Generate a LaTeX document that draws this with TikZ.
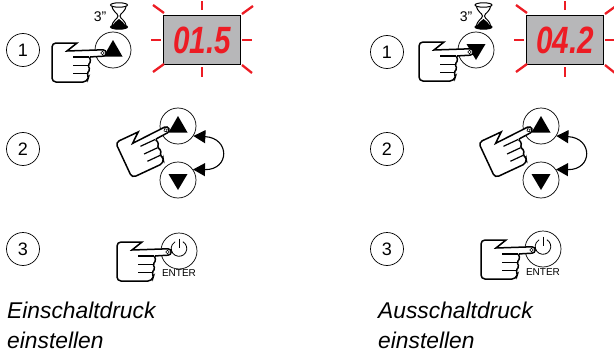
\documentclass[tikz,border=0pt]{standalone}
\usepackage{fontspec}
\setmainfont{Liberation Sans}
\usepackage{graphicx}
\usetikzlibrary{arrows.meta,positioning}
\definecolor{ledred}{RGB}{237,28,36}
\definecolor{dispgray}{RGB}{183,183,185}

\begin{document}
\begin{tikzpicture}[
    x=1pt, y=-1pt,
    stepnum/.style={circle, draw, line width=0.7pt, minimum size=33pt, inner sep=0pt,
                    font=\fontsize{18}{20}\selectfont},
    button/.style={circle, draw, line width=0.7pt, minimum size=36pt, inner sep=0pt},
    leddigits/.style={text=ledred, inner sep=0pt,
                      font=\fontsize{38}{40}\selectfont\bfseries\itshape},
    swap/.style={{Triangle[length=12pt,width=13pt]}-{Triangle[length=12pt,width=13pt]},
                 line width=1.1pt},
    caption/.style={align=left, anchor=north west, inner sep=0pt,
                    font=\fontsize{22.8}{30}\selectfont\itshape},
    small/.style={inner sep=0pt, font=\fontsize{14}{16}\selectfont},
    enter/.style={inner sep=0pt, font=\fontsize{10}{12}\selectfont},
    pics/handpic/.style={code={
        \draw[line width=1.5pt, fill=white, rounded corners=4pt]
            (-26,-10) -- (-51,-10) -- (-51,29) -- (-16,29)
            [rounded corners=1.5pt] -- (-14.5,24) -- (-16,20.5) -- (-13,16.5) -- (-15,12.5)
            -- (-12,8) -- (-14,4) [sharp corners] -- (0,3.2)
            arc[start angle=90, end angle=-90, radius=3.2] -- (-36,-2) -- cycle;
        \draw[line width=1.2pt] (-30,4) -- (-14,4) (-30,12.5) -- (-15,12.5) (-30,20.5) -- (-16,20.5);
        \draw[line width=0.6pt, fill=white] (-0.5,0) circle (1.8);
    }},
    pics/uptri/.style={code={\fill (0,-10) -- (9.5,6.5) -- (-9.5,6.5) -- cycle;}},
    pics/downtri/.style={code={\fill (0,10) -- (9.5,-6) -- (-9.5,-6) -- cycle;}},
    pics/powersym/.style={code={
        \draw[line width=0.8pt] (3.9,-9.25) arc[start angle=-60, end angle=240, radius=7.8];
        \draw[line width=0.8pt] (0,-12.5) -- (0,-3);
    }},
    pics/hourglass/.style={code={
        \draw[line width=1pt, fill=white] (-7,-11) .. controls (-7,-4) and (-1,-3) .. (-1,0)
            .. controls (-1,3) and (-7,4) .. (-7,11) -- (7,11)
            .. controls (7,4) and (1,3) .. (1,0)
            .. controls (1,-3) and (7,-4) .. (7,-11) -- cycle;
        \fill (-7,11) .. controls (-5,6) and (-2,5) .. (0,3) .. controls (2,5) and (5,6) .. (7,11) -- cycle;
        \draw[line width=1pt, fill=white] (0,-11) ellipse[x radius=8.5, y radius=2.2];
        \draw[line width=1pt, fill=black] (0,11) ellipse[x radius=8.5, y radius=2.2];
    }},
    pics/display/.style={code={
        \draw[line width=1pt, fill=dispgray] (-39,-25) rectangle (38,24);
        \foreach \xa/\ya/\xb/\yb in {0/-30/0/-39, 0/27/0/37, -41/0/-51/0, 40/0/50/0,
                                     -38/-27/-49/-35, 40/-26/51/-34, -38/24/-49/32, 40/25/50/33}
            \draw[ledred, line width=2.3pt] (\xa,\ya) -- (\xb,\yb);
    }},
]
% Bounding box
\useasboundingbox (0,0) rectangle (614,356);

% Left column
\node[stepnum] (numA1) at (23,50) {1};
\node[stepnum] (numA2) at (23,149) {2};
\node[stepnum] (numA3) at (23,249) {3};

\node[button] (upA1) at (113,50) {};
\pic at (upA1) {uptri};
\pic at (103,53) {handpic};
\node[small] (timeA) at (100,17) {3"};
\pic at (119,16) {hourglass};
\pic at (202,40) {display};
\node[leddigits] (ledA) at (202,40) {\scalebox{.78}[1]{01.5}};

\node[button] (upA2) at (178,126) {};
\node[button] (downA2) at (178,180) {};
\pic at (upA2) {uptri};
\pic at (downA2) {downtri};
\pic[rotate=25] at (166,130) {handpic};
\draw[swap] (upA2.-33) .. controls (230,138) and (230,170) .. (downA2.35);

\node[button] (enterA) at (179,251) {};
\pic at (enterA) {powersym};
\pic at (168,252) {handpic};
\node[enter] (enterAtxt) at (179,273) {ENTER};

\node[caption] (capA) at (7,302) {Einschaltdruck\\einstellen};

% Right column
\node[stepnum] (numB1) at (387,52) {1};
\node[stepnum] (numB2) at (387,149) {2};
\node[stepnum] (numB3) at (387,249) {3};

\node[button] (downB1) at (476,50) {};
\pic at (downB1) {downtri};
\pic at (470,52) {handpic};
\node[small] (timeB) at (466,17) {3"};
\pic at (483.5,16) {hourglass};
\pic at (565,40) {display};
\node[leddigits] (ledB) at (565,40) {\scalebox{.78}[1]{04.2}};

\node[button] (upB2) at (541,126) {};
\node[button] (downB2) at (541,180) {};
\pic at (upB2) {uptri};
\pic at (downB2) {downtri};
\pic[rotate=25] at (529,130) {handpic};
\draw[swap] (upB2.-33) .. controls (593,138) and (593,170) .. (downB2.35);

\node[button] (enterB) at (543,249) {};
\pic at (enterB) {powersym};
\pic at (532,250) {handpic};
\node[enter] (enterBtxt) at (543,272) {ENTER};

\node[caption] (capB) at (378,302) {Ausschaltdruck\\einstellen};
\end{tikzpicture}
\end{document}
